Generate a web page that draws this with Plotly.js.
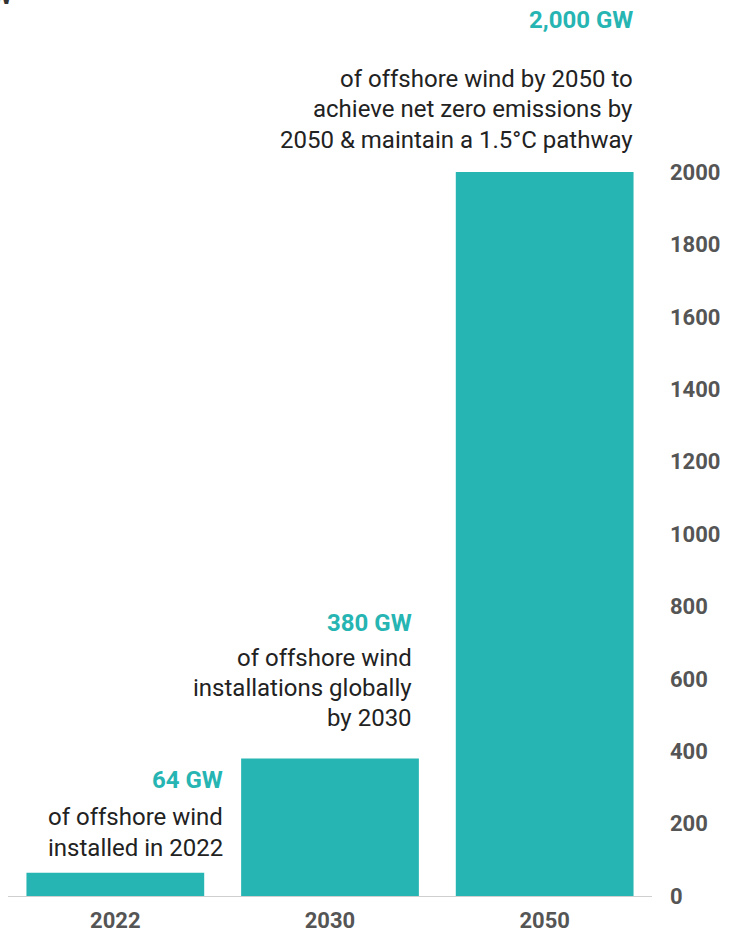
<!DOCTYPE html>
<html>
<head>
<meta charset="utf-8">
<script src="https://cdn.plot.ly/plotly-3.0.1.min.js"></script>
<style>html,body{margin:0;padding:0;background:#fff;}#chart{width:730px;height:937px;}</style>
</head>
<body>
<div id="chart"></div>
<script>
const categories = ['2022', '2030', '2050'];
const values = [64, 380, 2000];
const headings = ['64 GW', '380 GW', '2,000 GW'];
const notes = [
  ['of offshore wind', 'installed in 2022'],
  ['of offshore wind', 'installations globally', 'by 2030'],
  ['of offshore wind by 2050 to', 'achieve net zero emissions by', '2050 & maintain a 1.5°C pathway']
];
const yTicks = [0, 200, 400, 600, 800, 1000, 1200, 1400, 1600, 1800, 2000];

const TEAL = '#26b5b2';
const W = 730, H = 937;
const ML = 8, MR = 78, MT = 0, MB = 41;
const plotW = W - ML - MR;
const plotH = H - MT - MB;           // 896
const pxPerUnit = 0.362;
const yMax = plotH / pxPerUnit;

// text blocks (pixel positions: right edge, heading centre, first line centre, line step)
const blockPos = [
  {right: 225, head: 780, first: 817, step: 31},
  {right: 414, head: 623, first: 658, step: 30},
  {right: 635, head: 20, first: 79, step: 30.5}
];
const annotations = [];
function py(p) { return (plotH - p) / plotH; }
function px(p) { return (p - ML) / plotW; }
categories.forEach((c, i) => {
  const bp = blockPos[i];
  annotations.push({
    x: px(bp.right), xref: 'paper', xanchor: 'right',
    y: py(bp.head), yref: 'paper', yanchor: 'middle',
    text: '<b>' + headings[i] + '</b>', showarrow: false,
    font: {family: 'Roboto, Arial, sans-serif', size: 24, color: TEAL}
  });
  notes[i].forEach((line, j) => {
    annotations.push({
      x: px(bp.right), xref: 'paper', xanchor: 'right',
      y: py(bp.first + j * bp.step), yref: 'paper', yanchor: 'middle',
      text: line, showarrow: false,
      font: {family: 'Roboto, Arial, sans-serif', size: 24, color: '#222'}
    });
  });
});
// cropped unit label at the very top-left
annotations.push({
  x: px(14), xref: 'paper', xanchor: 'right',
  y: py(-4), yref: 'paper', yanchor: 'middle',
  text: '<b>GW</b>', showarrow: false,
  font: {family: 'Roboto, Arial, sans-serif', size: 24, color: '#333'}
});

const trace = {
  type: 'bar', x: categories, y: values,
  marker: {color: TEAL, line: {width: 0}},
  hoverinfo: 'skip'
};

const layout = {
  width: W, height: H,
  margin: {l: ML, r: MR, t: MT, b: MB, pad: 0},
  paper_bgcolor: '#fff', plot_bgcolor: '#fff',
  showlegend: false,
  bargap: 0.172,
  xaxis: {
    type: 'category', range: [-0.5, categories.length - 0.5], autorange: false,
    showgrid: false, zeroline: false,
    showline: true, linecolor: '#cfcfcf', linewidth: 1,
    ticks: '', ticklabelstandoff: 5,
    tickfont: {family: 'Roboto, Arial, sans-serif', size: 22, color: '#555', weight: 'bold'}
  },
  yaxis: {
    side: 'right', range: [0, yMax], autorange: false,
    showgrid: false, zeroline: false, showline: false,
    tickvals: yTicks, ticktext: yTicks.map(String), ticks: '',
    ticklabelstandoff: 17,
    tickfont: {family: 'Roboto, Arial, sans-serif', size: 22, color: '#555', weight: 'bold'}
  },
  annotations: annotations
};

Plotly.newPlot('chart', [trace], layout, {displayModeBar: false, staticPlot: true});
</script>
</body>
</html>
